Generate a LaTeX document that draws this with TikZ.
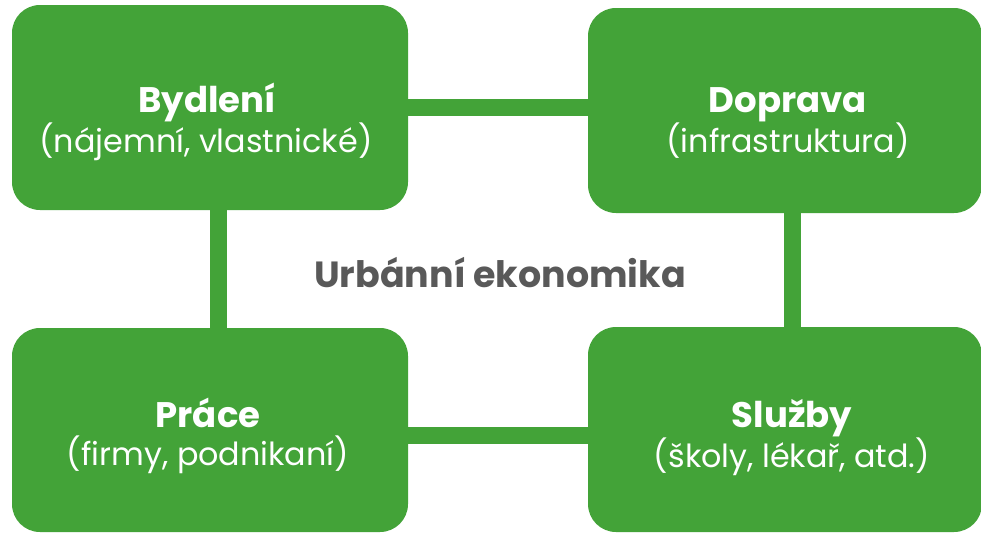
\documentclass[tikz,border=0pt]{standalone}
\usepackage{fontspec}
\setmainfont{Poppins}
\definecolor{boxgreen}{HTML}{43A338}
\definecolor{txtgray}{HTML}{595959}
\begin{document}
\begin{tikzpicture}[x=1pt,y=-1pt,
  box/.style={fill=boxgreen, rounded corners=28pt, minimum width=396pt, minimum height=205pt, inner sep=0pt},
  link/.style={draw=boxgreen, line width=17pt},
  ttl/.style={font=\bfseries\fontsize{35.5}{40}\selectfont, text=white, anchor=base, inner sep=0pt},
  sub/.style={font=\fontsize{31.8}{38}\selectfont, text=white, anchor=base, inner sep=0pt},
  center/.style={font=\bfseries\fontsize{36.4}{42}\selectfont, text=txtgray, anchor=base, inner sep=0pt}]
\useasboundingbox[fill=white] (0,0) rectangle (981,533);
\node[box] (bydleni) at (210,107.5) {};
\node[box, minimum width=394pt] (doprava) at (785,110.5) {};
\node[box, minimum height=204pt] (prace) at (210,430) {};
\node[box, minimum width=394pt] (sluzby) at (785,429.5) {};
\draw[link] (bydleni.east) -- (bydleni.east -| doprava.west);
\draw[link] ([xshift=8pt]bydleni.south) -- ([xshift=8pt]bydleni.south |- prace.north);
\draw[link] ([xshift=7pt]doprava.south) -- ([xshift=7pt]doprava.south |- sluzby.north);
\draw[link] ([yshift=-5pt]prace.east) -- ([yshift=-5pt]prace.east -| sluzby.west);
\node[ttl] (t1) at (207,112) {Bydlení};
\node[sub] (s1) at (206,152) {(nájemní, vlastnické)};
\node[ttl] (t2) at (788,112) {Doprava};
\node[sub] (s2) at (788,152) {(infrastruktura)};
\node[ttl] (t3) at (208,427) {Práce};
\node[sub] (s3) at (208,465) {(firmy, podnikaní)};
\node[ttl] (t4) at (792,427) {Služby};
\node[sub] (s4) at (792,467) {(školy, lékař, atd.)};
\node[center] (mid) at (500,287) {Urbánní ekonomika};
\end{tikzpicture}
\end{document}
